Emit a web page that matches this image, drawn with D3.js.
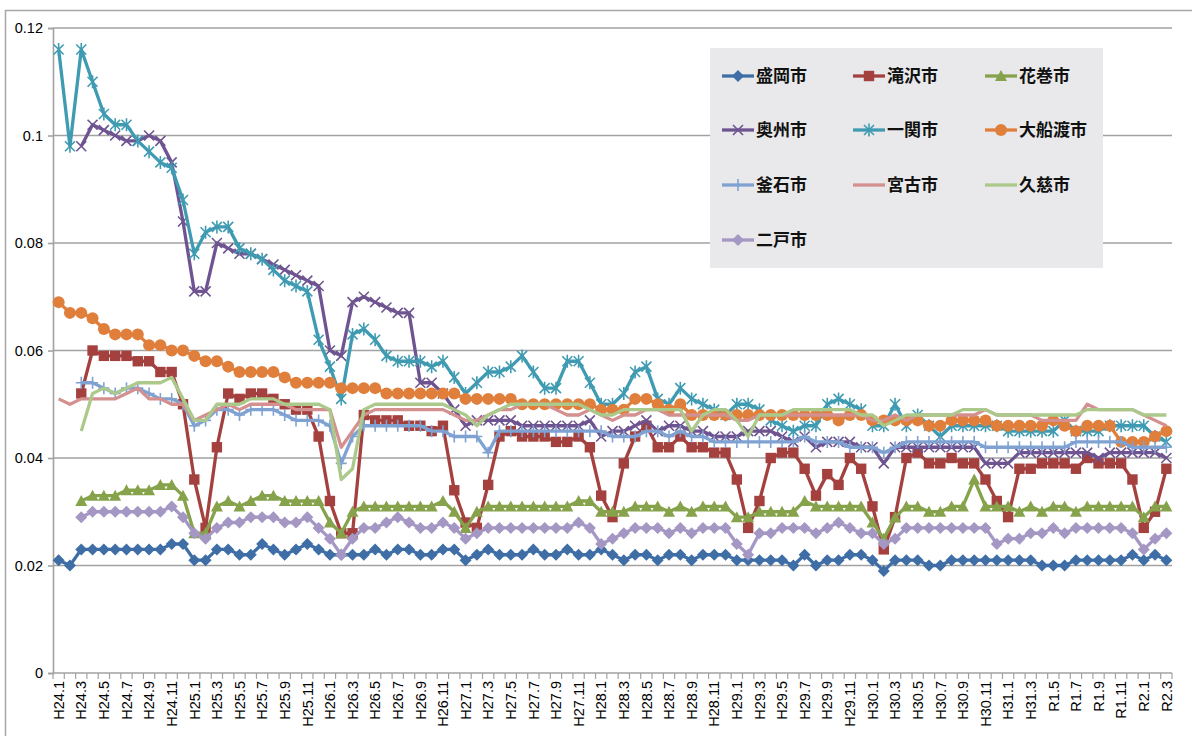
<!DOCTYPE html>
<html><head><meta charset="utf-8">
<script src="https://cdn.jsdelivr.net/npm/d3@7/dist/d3.min.js"></script>
<style>
html,body{margin:0;padding:0;background:#fff;}
svg{display:block;}
</style></head>
<body>
<svg id="chart" width="1192" height="736"></svg>
<script>
const categories = [
"H24.1","H24.2","H24.3","H24.4","H24.5","H24.6","H24.7","H24.8","H24.9","H24.10","H24.11","H24.12",
"H25.1","H25.2","H25.3","H25.4","H25.5","H25.6","H25.7","H25.8","H25.9","H25.10","H25.11","H25.12",
"H26.1","H26.2","H26.3","H26.4","H26.5","H26.6","H26.7","H26.8","H26.9","H26.10","H26.11","H26.12",
"H27.1","H27.2","H27.3","H27.4","H27.5","H27.6","H27.7","H27.8","H27.9","H27.10","H27.11","H27.12",
"H28.1","H28.2","H28.3","H28.4","H28.5","H28.6","H28.7","H28.8","H28.9","H28.10","H28.11","H28.12",
"H29.1","H29.2","H29.3","H29.4","H29.5","H29.6","H29.7","H29.8","H29.9","H29.10","H29.11","H29.12",
"H30.1","H30.2","H30.3","H30.4","H30.5","H30.6","H30.7","H30.8","H30.9","H30.10","H30.11","H30.12",
"H31.1","H31.2","H31.3","H31.4","R1.5","R1.6","R1.7","R1.8","R1.9","R1.10","R1.11","R1.12",
"R2.1","R2.2","R2.3"];

const yTicks = [0, 0.02, 0.04, 0.06, 0.08, 0.1, 0.12];
const yTickLabels = ["0", "0.02", "0.04", "0.06", "0.08", "0.1", "0.12"];

const seriesNames = ["盛岡市","滝沢市","花巻市","奥州市","一関市","大船渡市","釜石市","宮古市","久慈市","二戸市"];

const morioka = [
.021,.020,.023,.023,.023,.023,.023,.023,.023,.023,.024,.024,
.021,.021,.023,.023,.022,.022,.024,.023,.022,.023,.024,.023,
.022,.022,.022,.022,.023,.022,.023,.023,.022,.022,.023,.023,
.021,.022,.023,.022,.022,.022,.023,.022,.022,.023,.022,.022,
.023,.022,.021,.022,.022,.021,.022,.022,.021,.022,.022,.022,
.021,.021,.021,.021,.021,.020,.022,.020,.021,.021,.022,.022,
.021,.019,.021,.021,.021,.020,.020,.021,.021,.021,.021,.021,
.021,.021,.021,.020,.020,.020,.021,.021,.021,.021,.021,.022,
.021,.022,.021];

const takizawa = [
null,null,.052,.060,.059,.059,.059,.058,.058,.056,.056,.050,
.036,.027,.042,.052,.051,.052,.052,.051,.050,.049,.049,.044,
.032,.026,.026,.048,.047,.047,.047,.046,.046,.045,.046,.034,
.028,.027,.035,.044,.045,.044,.044,.044,.043,.043,.044,.042,
.033,.029,.039,.044,.046,.042,.042,.044,.042,.042,.041,.041,
.036,.027,.032,.040,.041,.041,.038,.033,.037,.035,.040,.038,
.031,.023,.029,.040,.041,.039,.039,.040,.039,.039,.036,.032,
.029,.038,.038,.039,.039,.039,.038,.040,.039,.039,.039,.036,
.027,.030,.038];

const hanamaki = [
null,null,.032,.033,.033,.033,.034,.034,.034,.035,.035,.033,
.026,.026,.031,.032,.031,.032,.033,.033,.032,.032,.032,.032,
.028,.026,.030,.031,.031,.031,.031,.031,.031,.031,.032,.030,
.027,.030,.031,.031,.031,.031,.031,.031,.031,.031,.032,.032,
.030,.030,.030,.031,.031,.031,.030,.031,.030,.031,.031,.031,
.029,.029,.030,.030,.030,.030,.032,.031,.031,.031,.031,.031,
.028,.025,.029,.031,.031,.030,.030,.031,.031,.036,.031,.031,
.031,.030,.031,.030,.031,.031,.030,.031,.031,.031,.031,.031,
.029,.031,.031];

const oshu = [
null,null,.098,.102,.101,.100,.099,.099,.100,.099,.095,.084,
.071,.071,.080,.079,.078,.078,.077,.076,.075,.074,.073,.072,
.060,.059,.069,.070,.069,.068,.067,.067,.054,.054,.052,.049,
.046,.047,.047,.047,.047,.046,.046,.046,.046,.046,.046,.047,
.044,.045,.045,.046,.047,.045,.046,.046,.045,.045,.044,.044,
.044,.045,.045,.045,.044,.043,.044,.042,.043,.043,.043,.042,
.042,.039,.042,.042,.042,.042,.042,.042,.042,.042,.039,.039,
.039,.041,.041,.041,.041,.041,.041,.041,.040,.041,.041,.041,
.041,.041,.040];

const ichinoseki = [
.116,.098,.116,.110,.104,.102,.102,.099,.097,.095,.094,.088,
.078,.082,.083,.083,.079,.078,.077,.075,.073,.072,.071,.062,
.057,.051,.063,.064,.062,.059,.058,.058,.058,.057,.058,.055,
.052,.054,.056,.056,.057,.059,.056,.053,.053,.058,.058,.054,
.050,.050,.052,.056,.057,.051,.050,.053,.051,.050,.049,.048,
.050,.050,.049,.047,.046,.045,.046,.046,.050,.051,.050,.049,
.046,.046,.050,.046,.048,.046,.044,.046,.046,.046,.046,.046,
.045,.045,.045,.045,.045,.047,.045,.045,.045,.046,.046,.046,
.046,.044,.043];

const ofunato = [
.069,.067,.067,.066,.064,.063,.063,.063,.061,.061,.060,.060,
.059,.058,.058,.057,.056,.056,.056,.056,.055,.054,.054,.054,
.054,.053,.053,.053,.053,.052,.052,.052,.052,.052,.052,.052,
.051,.051,.051,.051,.051,.050,.050,.050,.050,.050,.050,.050,
.049,.049,.049,.051,.051,.050,.049,.050,.048,.048,.048,.048,
.048,.048,.048,.048,.048,.048,.048,.048,.048,.047,.048,.048,
.047,.047,.047,.047,.047,.046,.046,.047,.047,.047,.047,.046,
.046,.046,.046,.046,.047,.046,.045,.046,.046,.046,.043,.043,
.043,.044,.045];

const kamaishi = [
null,null,.054,.054,.053,.052,.053,.053,.052,.051,.051,.050,
.046,.047,.049,.049,.048,.049,.049,.049,.048,.047,.047,.047,
.046,.039,.044,.046,.046,.046,.046,.046,.046,.045,.045,.044,
.044,.044,.041,.045,.045,.045,.045,.045,.045,.045,.045,.045,
.045,.044,.044,.044,.045,.045,.044,.045,.044,.044,.043,.043,
.043,.043,.043,.043,.043,.043,.044,.043,.043,.043,.042,.042,
.042,.041,.042,.043,.043,.043,.043,.043,.043,.043,.042,.042,
.042,.042,.042,.042,.042,.042,.043,.043,.043,.043,.043,.042,
.042,.042,.042];

const miyako = [
.051,.050,.051,.051,.051,.051,.052,.053,.051,.051,.050,.050,
.047,.048,.049,.050,.049,.050,.050,.050,.050,.049,.049,.049,
.049,.042,.045,.048,.049,.049,.049,.049,.049,.049,.049,.048,
.047,.047,.048,.049,.049,.050,.050,.050,.049,.048,.048,.049,
.048,.047,.048,.048,.049,.049,.048,.048,.048,.048,.048,.048,
.047,.047,.048,.048,.048,.048,.048,.048,.048,.048,.048,.048,
.047,.047,.048,.047,.048,.048,.048,.048,.048,.048,.049,.048,
.048,.048,.048,.047,.047,.047,.047,.050,.049,.049,.049,.049,
.048,.047,.046];

const kuji = [
null,null,.045,.052,.053,.052,.053,.054,.054,.054,.055,.051,
.047,.047,.050,.050,.050,.051,.051,.051,.050,.050,.050,.050,
.049,.036,.038,.049,.050,.050,.050,.050,.050,.050,.050,.049,
.048,.046,.048,.049,.050,.050,.050,.050,.050,.050,.050,.049,
.048,.048,.049,.049,.049,.049,.049,.049,.045,.048,.049,.049,
.047,.044,.048,.048,.048,.049,.049,.049,.049,.049,.049,.048,
.048,.046,.047,.048,.048,.048,.048,.048,.049,.049,.049,.048,
.048,.048,.048,.048,.048,.048,.048,.049,.049,.049,.049,.049,
.048,.048,.048];

const ninohe = [
null,null,.029,.030,.030,.030,.030,.030,.030,.030,.031,.029,
.026,.025,.027,.028,.028,.029,.029,.029,.028,.028,.029,.027,
.025,.022,.025,.027,.027,.028,.029,.028,.027,.027,.028,.027,
.025,.026,.027,.027,.027,.027,.027,.027,.027,.027,.028,.027,
.024,.025,.026,.027,.027,.027,.026,.027,.026,.027,.027,.027,
.024,.022,.026,.026,.027,.027,.027,.026,.027,.028,.027,.026,
.026,.024,.025,.027,.027,.027,.027,.027,.027,.027,.027,.024,
.025,.025,.026,.026,.027,.026,.027,.027,.027,.027,.027,.026,
.023,.025,.026];

const seriesValues = [morioka, takizawa, hanamaki, oshu, ichinoseki, ofunato, kamaishi, miyako, kuji, ninohe];
const seriesColors = ["#3F6EA6","#A4413F","#86A24B","#6E5490","#3F9BB2","#E07F3C","#7FA2D2","#D3908F","#ABC98A","#A497C4"];
const seriesMarkers = ["diamond","square","triangle","x","star","circle","plus","none","none","diamond"];

function markerPath(type) {
  switch (type) {
    case "diamond": return "M0,-6L6,0L0,6L-6,0Z";
    case "square": return "M-5.2,-5.2H5.2V5.2H-5.2Z";
    case "triangle": return "M0,-6L6,5L-6,5Z";
    case "x": return "M-5,-5L5,5M-5,5L5,-5";
    case "star": return "M-5,-5L5,5M-5,5L5,-5M0,-6.5V6.5";
    case "plus": return "M-5.5,0H5.5M0,-6V6";
    default: return "";
  }
}
const filledMarkers = {diamond: true, square: true, triangle: true, circle: true};

const svg = d3.select("#chart");
const plot = {left: 53, right: 1172, top: 28, bottom: 673};

const x = d3.scaleBand().domain(categories).range([plot.left, plot.right]).paddingInner(0).paddingOuter(0);
const y = d3.scaleLinear().domain([0, 0.12]).range([plot.bottom, plot.top]);
const cx = c => x(c) + x.bandwidth() / 2;

// outer frame
svg.append("path").attr("d", "M5.5,736V10.5H1192").attr("fill", "none").attr("stroke", "#A6A6A6").attr("stroke-width", 1.5);

// gridlines
svg.append("g").selectAll("line").data(yTicks.filter(t => t > 0)).join("line")
  .attr("x1", plot.left).attr("x2", plot.right)
  .attr("y1", d => y(d)).attr("y2", d => y(d))
  .attr("stroke", "#A2A2A2").attr("stroke-width", 1.6);

// y axis
const yAxis = d3.axisLeft(y).tickValues(yTicks).tickSize(5).tickFormat((d, i) => yTickLabels[i]);
const gy = svg.append("g").attr("transform", `translate(${plot.left},0)`).call(yAxis);
gy.select(".domain").attr("stroke", "#A2A2A2").attr("stroke-width", 1.6);
gy.selectAll(".tick line").attr("stroke", "#A2A2A2").attr("stroke-width", 1.6);
gy.selectAll(".tick text").attr("x", -10).attr("font-family", "'Liberation Sans', Arial, sans-serif")
  .attr("font-size", 14.5).attr("fill", "#000");

// x axis
const gx = svg.append("g").attr("transform", `translate(0,${plot.bottom})`);
gx.append("line").attr("x1", plot.left).attr("x2", plot.right).attr("y1", 0).attr("y2", 0)
  .attr("stroke", "#A2A2A2").attr("stroke-width", 1.6);
const boundaries = categories.map(c => x(c)).concat([plot.right]);
gx.selectAll("line.tk").data(boundaries).join("line").attr("class", "tk")
  .attr("x1", d => d).attr("x2", d => d).attr("y1", 0).attr("y2", 6)
  .attr("stroke", "#A2A2A2").attr("stroke-width", 1.2);
gx.selectAll("text").data(categories.filter((c, i) => i % 2 === 0)).join("text")
  .attr("transform", d => `translate(${cx(d)},8) rotate(-90)`)
  .attr("text-anchor", "end").attr("dy", "0.36em")
  .attr("font-family", "'Liberation Sans', Arial, sans-serif").attr("font-size", 14.5).attr("fill", "#000")
  .text(d => d);

// series
const line = d3.line().defined(d => d.v != null).x(d => cx(d.c)).y(d => y(d.v));
seriesValues.forEach((vals, si) => {
  const data = categories.map((c, i) => ({c, v: vals[i]}));
  const g = svg.append("g");
  g.append("path").datum(data).attr("d", line).attr("fill", "none")
    .attr("stroke", seriesColors[si]).attr("stroke-width", 3.3).attr("stroke-linejoin", "round");
  const mk = seriesMarkers[si];
  if (mk === "none") return;
  const pts = data.filter(d => d.v != null);
  if (mk === "circle") {
    g.selectAll("circle").data(pts).join("circle")
      .attr("cx", d => cx(d.c)).attr("cy", d => y(d.v)).attr("r", 6).attr("fill", seriesColors[si]);
  } else {
    g.selectAll("path.m").data(pts).join("path").attr("class", "m")
      .attr("transform", d => `translate(${cx(d.c)},${y(d.v)})`)
      .attr("d", markerPath(mk))
      .attr("fill", filledMarkers[mk] ? seriesColors[si] : "none")
      .attr("stroke", seriesColors[si]).attr("stroke-width", filledMarkers[mk] ? 0 : 1.6);
  }
});

// legend
const legend = svg.append("g");
legend.append("rect").attr("x", 710).attr("y", 48).attr("width", 393).attr("height", 220).attr("fill", "#E9E9EB");
const colX = [722, 853, 985];
const rowY = [76, 130, 185, 240];
seriesNames.forEach((name, si) => {
  const col = si % 3, row = Math.floor(si / 3);
  const lx = colX[col], ly = rowY[row];
  const g = legend.append("g");
  g.append("line").attr("x1", lx).attr("x2", lx + 32).attr("y1", ly).attr("y2", ly)
    .attr("stroke", seriesColors[si]).attr("stroke-width", 3.3);
  const mk = seriesMarkers[si];
  const mx = lx + 16;
  if (mk === "circle") {
    g.append("circle").attr("cx", mx).attr("cy", ly).attr("r", 6).attr("fill", seriesColors[si]);
  } else if (mk !== "none") {
    g.append("path").attr("transform", `translate(${mx},${ly})`).attr("d", markerPath(mk))
      .attr("fill", filledMarkers[mk] ? seriesColors[si] : "none")
      .attr("stroke", seriesColors[si]).attr("stroke-width", filledMarkers[mk] ? 0 : 1.6);
  }
  g.append("text").attr("x", lx + 34).attr("y", ly).attr("dy", "0.36em")
    .attr("font-family", "'Noto Sans CJK JP', sans-serif").attr("font-size", 17).attr("font-weight", "bold")
    .attr("fill", "#111").text(name);
});
</script>
</body></html>
